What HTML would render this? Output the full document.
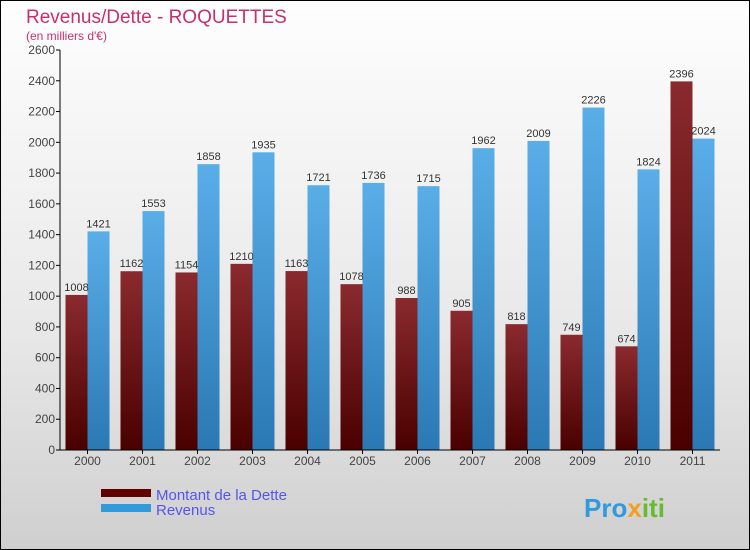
<!DOCTYPE html>
<html><head><meta charset="utf-8"><style>
body{margin:0}
#c{position:relative;width:748px;height:548px;border:1px solid #000;background:linear-gradient(#fefefe,#e8e8e8 60%,#cfcfcf);font-family:"Liberation Sans",sans-serif;overflow:hidden}
</style></head><body>
<div id="c">
<svg width="748" height="548" id="svg">
<defs>
<linearGradient id="gd" x1="0" y1="0" x2="0" y2="1"><stop offset="0" stop-color="#8a2a2e"/><stop offset="1" stop-color="#4a0000"/></linearGradient>
<linearGradient id="gr" x1="0" y1="0" x2="0" y2="1"><stop offset="0" stop-color="#5aaee8"/><stop offset="1" stop-color="#2a78b4"/></linearGradient>
</defs>
<text x="25" y="22" font-size="19" fill="#c8306a">Revenus/Dette - ROQUETTES</text>
<text x="25" y="39" font-size="12" fill="#c8306a">(en milliers d'€)</text>
<g id="plot"></g>
<rect x="100" y="488" width="50" height="8" fill="#600000"/>
<rect x="100" y="503" width="50" height="8" fill="#3399dd"/>
<text x="155" y="499" font-size="15" fill="#5555ee">Montant de la Dette</text>
<text x="155" y="514" font-size="15" fill="#5555ee">Revenus</text>
<text x="583" y="516" font-size="26" font-weight="bold" fill="#3399dd">Pro<tspan fill="#f0a020">x</tspan><tspan fill="#66bb33">iti</tspan></text>
</svg>
</div>
<script>
const years=["2000","2001","2002","2003","2004","2005","2006","2007","2008","2009","2010","2011"];
const dette=[1008,1162,1154,1210,1163,1078,988,905,818,749,674,2396];
const revenus=[1421,1553,1858,1935,1721,1736,1715,1962,2009,2226,1824,2024];
const ticks=[0,200,400,600,800,1000,1200,1400,1600,1800,2000,2200,2400,2600];
const NS="http://www.w3.org/2000/svg";
const g=document.getElementById("plot");
const y0=449,ymax=2600,ph=400,x0=59,step=55;
const Y=v=>y0-v/ymax*ph;
const X=i=>x0+27.5+i*step;
function el(t,a){const e=document.createElementNS(NS,t);for(const k in a)e.setAttribute(k,a[k]);g.appendChild(e);return e;}
ticks.forEach(t=>{
 const l=el("line",{x1:x0-4,x2:x0,y1:Y(t),y2:Y(t),stroke:"#000"});
 
 
 const tx=el("text",{x:x0-5,y:Y(t)+4,"font-size":12,"text-anchor":"end",fill:"#444"});
 tx.textContent=t;
 
 
});
years.forEach((yr,i)=>{
 const c=X(i);
 const bd=el("rect",{x:c-22,y:Y(dette[i]),width:22,height:y0-Y(dette[i]),fill:"url(#gd)"});
 
 
 const br=el("rect",{x:c,y:Y(revenus[i]),width:22,height:y0-Y(revenus[i]),fill:"url(#gr)"});
 
 
 const ld=el("text",{x:c-11,y:Y(dette[i])-4,"font-size":11,"text-anchor":"middle",fill:"#333"});
 ld.textContent=dette[i];
 
 
 const lr=el("text",{x:c+11,y:Y(revenus[i])-4,"font-size":11,"text-anchor":"middle",fill:"#333"});
 lr.textContent=revenus[i];
 
 
 const tk=el("line",{x1:c,x2:c,y1:y0,y2:y0+4,stroke:"#000"});
 
 
 const xl=el("text",{x:c,y:y0+15,"font-size":12,"text-anchor":"middle",fill:"#444"});
 xl.textContent=yr;
 
 
});
const ya=el("line",{x1:x0,x2:x0,y1:Y(2600),y2:y0,stroke:"#000"});


const xa=el("line",{x1:x0,x2:x0+12*step,y1:y0,y2:y0,stroke:"#000"});


</script>
</body></html>
